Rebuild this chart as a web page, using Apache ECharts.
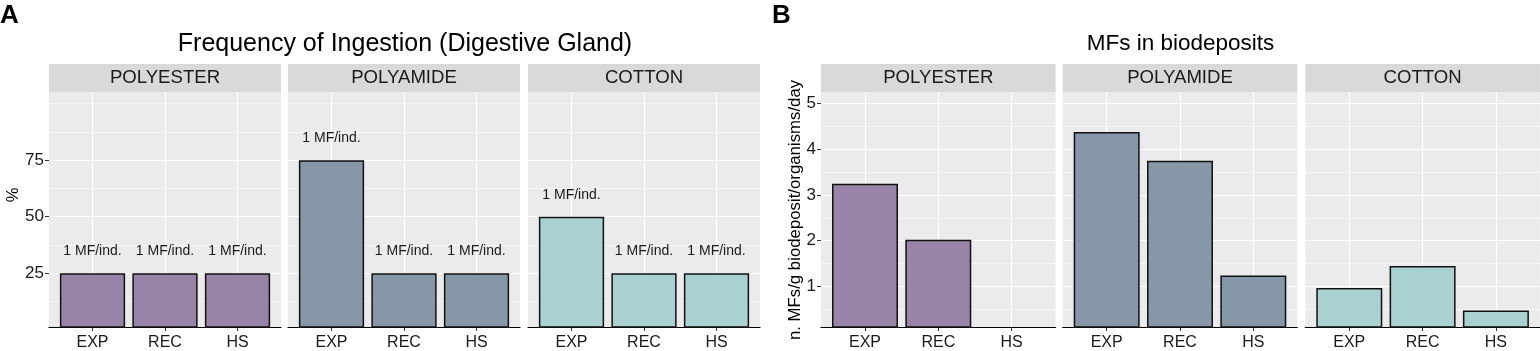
<!DOCTYPE html>
<html>
<head>
<meta charset="utf-8">
<script src="https://cdn.jsdelivr.net/npm/echarts@6/dist/echarts.min.js"></script>
<style>
  html, body { margin: 0; padding: 0; background: #fff; }
  #main { width: 1540px; height: 351px; }
</style>
</head>
<body>
<div id="main"></div>
<script>
// categories and facets
var categories = ['EXP', 'REC', 'HS'];
var fabrics = ['POLYESTER', 'POLYAMIDE', 'COTTON'];

// A - frequency of ingestion (%)
var ingestionPolyester = [25, 25, 25];
var ingestionPolyamide = [75, 25, 25];
var ingestionCotton = [50, 25, 25];
var ingestionLabels = ['1 MF/ind.', '1 MF/ind.', '1 MF/ind.'];
var ticksA = [25, 50, 75];

// B - MFs in biodeposits
var bioPolyester = [3.24, 2.02, 0];
var bioPolyamide = [4.37, 3.74, 1.24];
var bioCotton = [0.97, 1.45, 0.48];
var ticksB = [1, 2, 3, 4, 5];

var colors = ['#9884a9', '#8697a8', '#a9d1cf'];

var dom = document.getElementById('main');
var myChart = echarts.init(dom, null, { renderer: 'canvas' });

var font = "'Liberation Sans', Arial, sans-serif";
var top0 = 92, plotH = 238, stripH = 28;

var panels = [
    { left: [49, 288, 528], width: 232, min: 1.3, max: 105.1, ticks: ticksA,
      minor: [12.5, 37.5, 62.5, 87.5, 100],
      data: [ingestionPolyester, ingestionPolyamide, ingestionCotton], labels: ingestionLabels },
    { left: [821, 1062.7, 1305.3], width: 234.6, min: 0.12, max: 5.24, ticks: ticksB,
      minor: [0.5, 1.5, 2.5, 3.5, 4.5],
      data: [bioPolyester, bioPolyamide, bioCotton], labels: null }
];

var grids = [], xAxes = [], yAxes = [], series = [], graphics = [];

panels.forEach(function (p, pi) {
    for (var f = 0; f < 3; f++) {
        var gi = grids.length;
        grids.push({
            left: p.left[f], top: top0, width: p.width, height: plotH,
            show: true, backgroundColor: '#ebebeb', borderWidth: 0
        });
        xAxes.push({
            type: 'value', gridIndex: gi, min: 0.4, max: 3.6,
            axisLine: { show: true, lineStyle: { color: '#000', width: 1.2 } },
            axisTick: { show: true, customValues: [1, 2, 3], length: 4, lineStyle: { color: '#333', width: 1 } },
            axisLabel: {
                customValues: [1, 2, 3], fontSize: 16, fontFamily: font, color: '#1a1a1a', margin: 8,
                formatter: function (v) { return categories[Math.round(v) - 1] || ''; }
            },
            splitLine: { show: false }
        });
        yAxes.push({
            type: 'value', gridIndex: gi, min: p.min, max: p.max,
            axisLine: { show: false },
            axisTick: { show: f === 0, customValues: p.ticks, length: 4, lineStyle: { color: '#333', width: 1 } },
            axisLabel: { show: f === 0, customValues: p.ticks, fontSize: 17, fontFamily: font, color: '#1a1a1a', margin: 5 },
            splitLine: { show: false }
        });

        var lines = [];
        p.ticks.forEach(function (t) { lines.push({ yAxis: t, lineStyle: { color: '#fff', width: 1.2, type: 'solid' } }); });
        p.minor.forEach(function (t) { lines.push({ yAxis: t, lineStyle: { color: '#fff', width: 0.6, type: 'solid' } }); });
        [1, 2, 3].forEach(function (t) { lines.push({ xAxis: t, lineStyle: { color: '#fff', width: 1.2, type: 'solid' } }); });

        var vals = p.data[f];
        var labs = p.labels;
        series.push({
            type: 'bar', xAxisIndex: gi, yAxisIndex: gi,
            barWidth: 0.9 * p.width / 3.2,
            data: vals.map(function (v, i) { return [i + 1, v]; }),
            itemStyle: { color: colors[f], borderColor: '#111', borderWidth: 1.5 },
            label: {
                show: !!labs, position: 'top', distance: 15,
                fontSize: 14, fontFamily: font, color: '#1a1a1a',
                formatter: function (prm) { return labs ? labs[prm.dataIndex] : ''; }
            },
            markLine: {
                silent: true, symbol: 'none', z: 1, animation: false,
                label: { show: false },
                data: lines
            }
        });

        // facet strip
        graphics.push({
            type: 'rect', shape: { x: p.left[f], y: top0 - stripH, width: p.width, height: stripH },
            style: { fill: '#d9d9d9' }, z: 10
        });
        graphics.push({
            type: 'text', x: p.left[f] + p.width / 2, y: top0 - stripH / 2, z: 11,
            style: { text: fabrics[f], fontSize: 18.6, fontFamily: font, fill: '#1a1a1a', align: 'center', verticalAlign: 'middle' }
        });
    }
});

// panel letters, titles, y axis titles
graphics.push(
    { type: 'text', x: 0, y: 3, style: { text: 'A', fontSize: 26, fontWeight: 'bold', fontFamily: font, fill: '#000' } },
    { type: 'text', x: 772, y: 3, style: { text: 'B', fontSize: 26, fontWeight: 'bold', fontFamily: font, fill: '#000' } },
    { type: 'text', x: 405, y: 44, style: { text: 'Frequency of Ingestion (Digestive Gland)', fontSize: 25, fontFamily: font, fill: '#000', align: 'center', verticalAlign: 'middle' } },
    { type: 'text', x: 1180.5, y: 44, style: { text: 'MFs in biodeposits', fontSize: 22.5, fontFamily: font, fill: '#000', align: 'center', verticalAlign: 'middle' } },
    { type: 'text', x: 13, y: 195, rotation: Math.PI / 2, style: { text: '%', fontSize: 16.5, fontFamily: font, fill: '#000', align: 'center', verticalAlign: 'middle' } },
    { type: 'text', x: 795, y: 210, rotation: Math.PI / 2, style: { text: 'n. MFs/g biodeposit/organisms/day', fontSize: 16.8, fontFamily: font, fill: '#000', align: 'center', verticalAlign: 'middle' } }
);

var option = {
    animation: false,
    backgroundColor: '#fff',
    grid: grids,
    xAxis: xAxes,
    yAxis: yAxes,
    series: series,
    graphic: graphics
};

if (option && typeof option === 'object') {
    myChart.setOption(option);
}

window.addEventListener('resize', myChart.resize);
</script>
</body>
</html>
